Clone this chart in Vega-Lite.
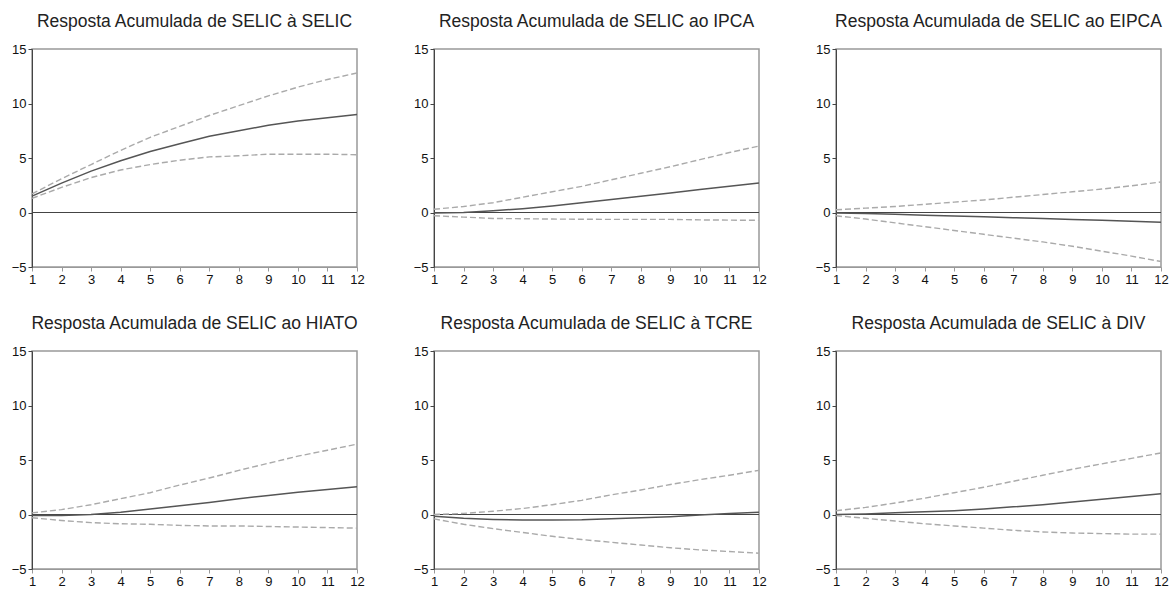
{
  "$schema": "https://vega.github.io/schema/vega-lite/v6.json",
  "background": "white",
  "padding": {"left": 10, "top": 11, "right": 0, "bottom": 5},
  "data": {"values": [
    {"painel": "Resposta Acumulada de SELIC à SELIC", "h": 1, "resp": 1.5, "inf": 1.3, "sup": 1.7},
    {"painel": "Resposta Acumulada de SELIC à SELIC", "h": 2, "resp": 2.7, "inf": 2.3, "sup": 3.1},
    {"painel": "Resposta Acumulada de SELIC à SELIC", "h": 3, "resp": 3.8, "inf": 3.2, "sup": 4.4},
    {"painel": "Resposta Acumulada de SELIC à SELIC", "h": 4, "resp": 4.75, "inf": 3.9, "sup": 5.7},
    {"painel": "Resposta Acumulada de SELIC à SELIC", "h": 5, "resp": 5.6, "inf": 4.4, "sup": 6.9},
    {"painel": "Resposta Acumulada de SELIC à SELIC", "h": 6, "resp": 6.3, "inf": 4.8, "sup": 7.9},
    {"painel": "Resposta Acumulada de SELIC à SELIC", "h": 7, "resp": 7.0, "inf": 5.1, "sup": 8.9},
    {"painel": "Resposta Acumulada de SELIC à SELIC", "h": 8, "resp": 7.5, "inf": 5.2, "sup": 9.8},
    {"painel": "Resposta Acumulada de SELIC à SELIC", "h": 9, "resp": 8.0, "inf": 5.35, "sup": 10.7},
    {"painel": "Resposta Acumulada de SELIC à SELIC", "h": 10, "resp": 8.4, "inf": 5.35, "sup": 11.5},
    {"painel": "Resposta Acumulada de SELIC à SELIC", "h": 11, "resp": 8.7, "inf": 5.35, "sup": 12.2},
    {"painel": "Resposta Acumulada de SELIC à SELIC", "h": 12, "resp": 9.0, "inf": 5.3, "sup": 12.8},

    {"painel": "Resposta Acumulada de SELIC ao IPCA", "h": 1, "resp": -0.05, "inf": -0.3, "sup": 0.3},
    {"painel": "Resposta Acumulada de SELIC ao IPCA", "h": 2, "resp": 0.0, "inf": -0.42, "sup": 0.55},
    {"painel": "Resposta Acumulada de SELIC ao IPCA", "h": 3, "resp": 0.15, "inf": -0.55, "sup": 0.9},
    {"painel": "Resposta Acumulada de SELIC ao IPCA", "h": 4, "resp": 0.35, "inf": -0.57, "sup": 1.4},
    {"painel": "Resposta Acumulada de SELIC ao IPCA", "h": 5, "resp": 0.6, "inf": -0.6, "sup": 1.9},
    {"painel": "Resposta Acumulada de SELIC ao IPCA", "h": 6, "resp": 0.9, "inf": -0.62, "sup": 2.4},
    {"painel": "Resposta Acumulada de SELIC ao IPCA", "h": 7, "resp": 1.2, "inf": -0.63, "sup": 3.0},
    {"painel": "Resposta Acumulada de SELIC ao IPCA", "h": 8, "resp": 1.5, "inf": -0.63, "sup": 3.6},
    {"painel": "Resposta Acumulada de SELIC ao IPCA", "h": 9, "resp": 1.8, "inf": -0.63, "sup": 4.2},
    {"painel": "Resposta Acumulada de SELIC ao IPCA", "h": 10, "resp": 2.1, "inf": -0.68, "sup": 4.85},
    {"painel": "Resposta Acumulada de SELIC ao IPCA", "h": 11, "resp": 2.4, "inf": -0.7, "sup": 5.5},
    {"painel": "Resposta Acumulada de SELIC ao IPCA", "h": 12, "resp": 2.7, "inf": -0.72, "sup": 6.1},

    {"painel": "Resposta Acumulada de SELIC ao EIPCA", "h": 1, "resp": -0.05, "inf": -0.3, "sup": 0.25},
    {"painel": "Resposta Acumulada de SELIC ao EIPCA", "h": 2, "resp": -0.1, "inf": -0.6, "sup": 0.4},
    {"painel": "Resposta Acumulada de SELIC ao EIPCA", "h": 3, "resp": -0.15, "inf": -0.95, "sup": 0.55},
    {"painel": "Resposta Acumulada de SELIC ao EIPCA", "h": 4, "resp": -0.25, "inf": -1.3, "sup": 0.75},
    {"painel": "Resposta Acumulada de SELIC ao EIPCA", "h": 5, "resp": -0.32, "inf": -1.65, "sup": 0.95},
    {"painel": "Resposta Acumulada de SELIC ao EIPCA", "h": 6, "resp": -0.4, "inf": -2.0, "sup": 1.15},
    {"painel": "Resposta Acumulada de SELIC ao EIPCA", "h": 7, "resp": -0.48, "inf": -2.35, "sup": 1.4},
    {"painel": "Resposta Acumulada de SELIC ao EIPCA", "h": 8, "resp": -0.56, "inf": -2.7, "sup": 1.65},
    {"painel": "Resposta Acumulada de SELIC ao EIPCA", "h": 9, "resp": -0.64, "inf": -3.1, "sup": 1.9},
    {"painel": "Resposta Acumulada de SELIC ao EIPCA", "h": 10, "resp": -0.72, "inf": -3.55, "sup": 2.15},
    {"painel": "Resposta Acumulada de SELIC ao EIPCA", "h": 11, "resp": -0.8, "inf": -4.0, "sup": 2.45},
    {"painel": "Resposta Acumulada de SELIC ao EIPCA", "h": 12, "resp": -0.9, "inf": -4.5, "sup": 2.8},

    {"painel": "Resposta Acumulada de SELIC ao HIATO", "h": 1, "resp": -0.1, "inf": -0.3, "sup": 0.15},
    {"painel": "Resposta Acumulada de SELIC ao HIATO", "h": 2, "resp": -0.1, "inf": -0.55, "sup": 0.45},
    {"painel": "Resposta Acumulada de SELIC ao HIATO", "h": 3, "resp": 0.0, "inf": -0.75, "sup": 0.9},
    {"painel": "Resposta Acumulada de SELIC ao HIATO", "h": 4, "resp": 0.2, "inf": -0.85, "sup": 1.45},
    {"painel": "Resposta Acumulada de SELIC ao HIATO", "h": 5, "resp": 0.5, "inf": -0.9, "sup": 2.0},
    {"painel": "Resposta Acumulada de SELIC ao HIATO", "h": 6, "resp": 0.8, "inf": -1.0, "sup": 2.7},
    {"painel": "Resposta Acumulada de SELIC ao HIATO", "h": 7, "resp": 1.1, "inf": -1.05, "sup": 3.35},
    {"painel": "Resposta Acumulada de SELIC ao HIATO", "h": 8, "resp": 1.45, "inf": -1.05, "sup": 4.05},
    {"painel": "Resposta Acumulada de SELIC ao HIATO", "h": 9, "resp": 1.75, "inf": -1.1, "sup": 4.7},
    {"painel": "Resposta Acumulada de SELIC ao HIATO", "h": 10, "resp": 2.05, "inf": -1.15, "sup": 5.35},
    {"painel": "Resposta Acumulada de SELIC ao HIATO", "h": 11, "resp": 2.3, "inf": -1.2, "sup": 5.9},
    {"painel": "Resposta Acumulada de SELIC ao HIATO", "h": 12, "resp": 2.55, "inf": -1.25, "sup": 6.45},

    {"painel": "Resposta Acumulada de SELIC à TCRE", "h": 1, "resp": -0.15, "inf": -0.4, "sup": 0.0},
    {"painel": "Resposta Acumulada de SELIC à TCRE", "h": 2, "resp": -0.35, "inf": -0.9, "sup": 0.1},
    {"painel": "Resposta Acumulada de SELIC à TCRE", "h": 3, "resp": -0.45, "inf": -1.3, "sup": 0.3},
    {"painel": "Resposta Acumulada de SELIC à TCRE", "h": 4, "resp": -0.5, "inf": -1.65, "sup": 0.55},
    {"painel": "Resposta Acumulada de SELIC à TCRE", "h": 5, "resp": -0.5, "inf": -2.0, "sup": 0.9},
    {"painel": "Resposta Acumulada de SELIC à TCRE", "h": 6, "resp": -0.48, "inf": -2.3, "sup": 1.3},
    {"painel": "Resposta Acumulada de SELIC à TCRE", "h": 7, "resp": -0.4, "inf": -2.55, "sup": 1.8},
    {"painel": "Resposta Acumulada de SELIC à TCRE", "h": 8, "resp": -0.3, "inf": -2.8, "sup": 2.25},
    {"painel": "Resposta Acumulada de SELIC à TCRE", "h": 9, "resp": -0.2, "inf": -3.05, "sup": 2.75},
    {"painel": "Resposta Acumulada de SELIC à TCRE", "h": 10, "resp": -0.05, "inf": -3.25, "sup": 3.2},
    {"painel": "Resposta Acumulada de SELIC à TCRE", "h": 11, "resp": 0.1, "inf": -3.4, "sup": 3.6},
    {"painel": "Resposta Acumulada de SELIC à TCRE", "h": 12, "resp": 0.2, "inf": -3.55, "sup": 4.05},

    {"painel": "Resposta Acumulada de SELIC à DIV", "h": 1, "resp": 0.0, "inf": -0.1, "sup": 0.35},
    {"painel": "Resposta Acumulada de SELIC à DIV", "h": 2, "resp": 0.05, "inf": -0.35, "sup": 0.65},
    {"painel": "Resposta Acumulada de SELIC à DIV", "h": 3, "resp": 0.15, "inf": -0.6, "sup": 1.05},
    {"painel": "Resposta Acumulada de SELIC à DIV", "h": 4, "resp": 0.25, "inf": -0.85, "sup": 1.5},
    {"painel": "Resposta Acumulada de SELIC à DIV", "h": 5, "resp": 0.35, "inf": -1.05, "sup": 2.0},
    {"painel": "Resposta Acumulada de SELIC à DIV", "h": 6, "resp": 0.5, "inf": -1.25, "sup": 2.5},
    {"painel": "Resposta Acumulada de SELIC à DIV", "h": 7, "resp": 0.7, "inf": -1.45, "sup": 3.05},
    {"painel": "Resposta Acumulada de SELIC à DIV", "h": 8, "resp": 0.9, "inf": -1.6, "sup": 3.6},
    {"painel": "Resposta Acumulada de SELIC à DIV", "h": 9, "resp": 1.15, "inf": -1.7, "sup": 4.15},
    {"painel": "Resposta Acumulada de SELIC à DIV", "h": 10, "resp": 1.4, "inf": -1.75, "sup": 4.65},
    {"painel": "Resposta Acumulada de SELIC à DIV", "h": 11, "resp": 1.65, "inf": -1.8, "sup": 5.15},
    {"painel": "Resposta Acumulada de SELIC à DIV", "h": 12, "resp": 1.9, "inf": -1.8, "sup": 5.65}
  ]},
  "columns": 3,
  "facet": {
    "field": "painel",
    "type": "nominal",
    "sort": ["Resposta Acumulada de SELIC à SELIC", "Resposta Acumulada de SELIC ao IPCA", "Resposta Acumulada de SELIC ao EIPCA", "Resposta Acumulada de SELIC ao HIATO", "Resposta Acumulada de SELIC à TCRE", "Resposta Acumulada de SELIC à DIV"],
    "header": {"title": null, "labelFont": "Liberation Sans", "labelFontSize": 17.5, "labelColor": "#222", "labelPadding": 13}
  },
  "spacing": {"column": 47, "row": 26},
  "resolve": {"axis": {"x": "independent", "y": "independent"}},
  "spec": {
    "width": 325,
    "height": 218,
    "encoding": {
      "x": {"field": "h", "type": "quantitative", "scale": {"domain": [1, 12], "nice": false, "zero": false},
            "axis": {"title": null, "values": [1,2,3,4,5,6,7,8,9,10,11,12], "grid": false, "labelAngle": 0, "labelFlush": false, "domainColor": "#999", "tickColor": "#999", "tickSize": 4}}
    },
    "layer": [
      {"mark": {"type": "rule", "color": "#444", "strokeWidth": 1.2}, "encoding": {"y": {"datum": 0, "type": "quantitative"}, "x": null}},
      {"mark": {"type": "line", "color": "#aaa", "strokeWidth": 1.4, "strokeDash": [6, 3]},
       "encoding": {"y": {"field": "sup", "type": "quantitative", "scale": {"domain": [-5, 15], "nice": false},
         "axis": {"title": null, "values": [-5, 0, 5, 10, 15], "grid": false, "domainColor": "#444", "tickColor": "#444", "tickSize": 4}}}},
      {"mark": {"type": "line", "color": "#aaa", "strokeWidth": 1.4, "strokeDash": [6, 3]}, "encoding": {"y": {"field": "inf", "type": "quantitative"}}},
      {"mark": {"type": "line", "color": "#555", "strokeWidth": 1.5}, "encoding": {"y": {"field": "resp", "type": "quantitative"}}}
    ]
  },
  "config": {
    "view": {"stroke": "#999", "strokeWidth": 1.5},
    "axis": {"labelFont": "Liberation Sans", "labelFontSize": 13, "labelColor": "#111", "labelPadding": 2}
  }
}
